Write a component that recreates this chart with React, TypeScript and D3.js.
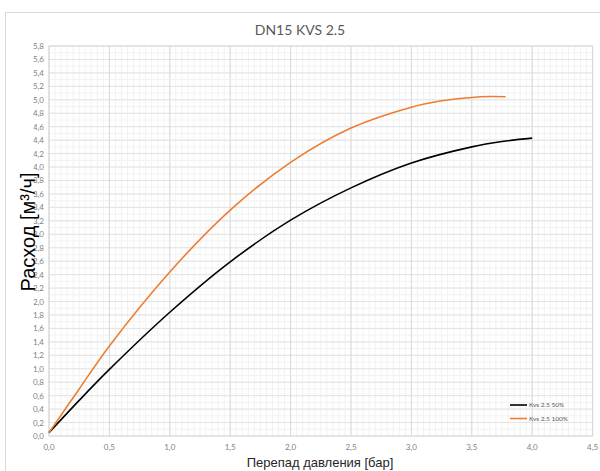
import React from "react";
import * as d3 from "d3";

const title = "DN15 KVS 2.5";
const xTitle = "Перепад давления [бар]";
const yTitle = "Расход [м³/ч]";
const seriesNames = ["Kvs 2.5 50%", "Kvs 2.5 100%"];
const seriesColors = ["#000000", "#ED7D31"];

const blackX = [0, 0.25, 0.5, 1.0, 1.5, 2.0, 2.5, 3.0, 3.5, 3.75, 4.0];
const blackY = [0.05, 0.53, 0.99, 1.84, 2.59, 3.21, 3.69, 4.06, 4.30, 4.38, 4.43];
const orangeX = [0, 0.25, 0.5, 1.0, 1.5, 2.0, 2.5, 3.0, 3.25, 3.5, 3.65, 3.78];
const orangeY = [0.05, 0.70, 1.34, 2.44, 3.36, 4.07, 4.58, 4.89, 4.985, 5.035, 5.048, 5.045];

const xTicks = [0, 0.5, 1.0, 1.5, 2.0, 2.5, 3.0, 3.5, 4.0, 4.5];
const yTicks = d3.range(0, 30).map((i) => +(i * 0.2).toFixed(1));

const W = 600, H = 471;
const left = 49, right = 592.6, top = 46, bottom = 436;

export default function App() {
  const x = d3.scaleLinear().domain([0, 4.5]).range([left, right]);
  const y = d3.scaleLinear().domain([0, 5.8]).range([bottom, top]);
  const fmt = (v: number) => v.toFixed(1).replace(".", ",");
  const minorX = d3.range(0, 91).map((i) => i * 0.05);
  const minorY = d3.range(0, 59).map((i) => i * 0.1);
  const line = d3
    .line<[number, number]>()
    .x((d) => x(d[0]))
    .y((d) => y(d[1]))
    .curve(d3.curveCatmullRom.alpha(0.5));
  const series = [
    blackX.map((v, i) => [v, blackY[i]] as [number, number]),
    orangeX.map((v, i) => [v, orangeY[i]] as [number, number]),
  ];
  const font = "Lato, 'Open Sans', sans-serif";
  return (
    <div style={{ position: "absolute", left: 0, top: 0 }}>
      <svg width={W} height={H} style={{ display: "block", fontFamily: font }}>
        <rect x={0} y={0} width={W} height={H} fill="#fff" />
        <rect x={5.5} y={12.5} width={620} height={480} fill="#fff" stroke="#d9d9d9" />
        <text x={300} y={35} textAnchor="middle" fontSize={14} fill="#595959">
          {title}
        </text>
        {minorX.map((v, i) => (
          <line key={"mx" + i} x1={x(v)} x2={x(v)} y1={top} y2={bottom} stroke="#f2f2f2" strokeWidth={1} />
        ))}
        {minorY.map((v, i) => (
          <line key={"my" + i} x1={left} x2={right} y1={y(v)} y2={y(v)} stroke="#f2f2f2" strokeWidth={1} />
        ))}
        {yTicks.map((v, i) => (
          <line key={"gy" + i} x1={left} x2={right} y1={y(v)} y2={y(v)} stroke="#e3e3e3" strokeWidth={1} />
        ))}
        {xTicks.map((v, i) => (
          <line key={"gx" + i} x1={x(v)} x2={x(v)} y1={top} y2={bottom} stroke="#d9d9d9" strokeWidth={1} />
        ))}
        <rect x={left} y={top} width={right - left} height={bottom - top} fill="none" stroke="#d9d9d9" />
        {yTicks.map((v, i) => (
          <text key={"ty" + i} x={44} y={y(v) + 3} textAnchor="end" fontSize={8} fill="#7f7f7f">
            {fmt(v)}
          </text>
        ))}
        {xTicks.map((v, i) => (
          <text key={"tx" + i} x={x(v)} y={450} textAnchor="middle" fontSize={8} fill="#7f7f7f">
            {fmt(v)}
          </text>
        ))}
        {series.map((s, i) => (
          <path key={"s" + i} d={line(s) || ""} fill="none" stroke={seriesColors[i]} strokeWidth={1.6} />
        ))}
        <rect x={15} y={119} width={18.5} height={216} fill="#fff" />
        <text
          transform={`translate(35,232) rotate(-90)`}
          textAnchor="middle"
          fontSize={20}
          fill="#000"
          fontFamily="'Liberation Sans', Arial, sans-serif"
        >
          {yTitle}
        </text>
        <text x={320} y={467} textAnchor="middle" fontSize={13} fill="#262626" fontFamily="'Liberation Sans', Arial, sans-serif">
          {xTitle}
        </text>
        {seriesNames.map((n, i) => (
          <g key={"lg" + i} transform={`translate(510,${405 + i * 13.5})`}>
            <line x1={0} x2={17} y1={0} y2={0} stroke={seriesColors[i]} strokeWidth={1.6} />
            <text x={19} y={2.2} fontSize={6.5} fill="#595959">
              {n}
            </text>
          </g>
        ))}
      </svg>
    </div>
  );
}
